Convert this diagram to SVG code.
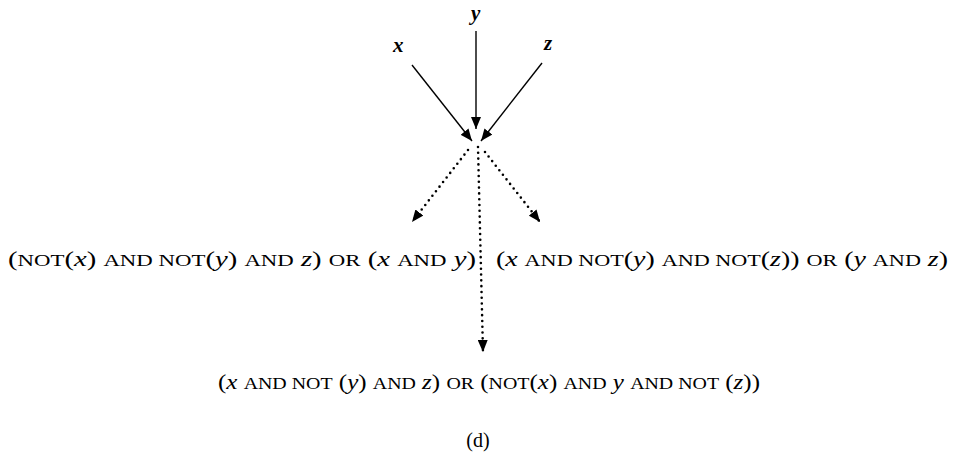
<svg xmlns="http://www.w3.org/2000/svg" width="954" height="476" viewBox="0 0 954 476">
<style>
text{font-family:"Liberation Serif","DejaVu Serif","Times New Roman",serif;fill:#000}
.t{font-size:22px}
.sc{font-size:17.5px}
.i{font-style:italic}
.lbl{font-size:21px;font-style:italic;font-weight:bold}
.solid{stroke:#000;stroke-width:1.4;fill:none}
.dot{stroke:#000;stroke-width:2.6;fill:none;stroke-linecap:round;stroke-dasharray:0 5.8}
</style>
<defs>
<marker id="ah" viewBox="0 0 12 10" refX="12" refY="5" markerWidth="12" markerHeight="10" markerUnits="userSpaceOnUse" orient="auto">
<path d="M0,0 L12,5 L0,10 Z" fill="#000"/>
</marker>
</defs>
<rect width="954" height="476" fill="#fff"/>
<g id="in-x"><text class="lbl" x="393" y="52" font-family="Liberation Serif, serif">x</text></g>
<g id="in-y"><text class="lbl" x="471" y="20" font-family="Liberation Serif, serif">y</text></g>
<g id="in-z"><text class="lbl" x="544" y="50" font-family="Liberation Serif, serif">z</text></g>
<g id="connectors">
<line class="solid" x1="412" y1="65" x2="472" y2="141" marker-end="url(#ah)"/>
<line class="solid" x1="476" y1="31" x2="476" y2="129" marker-end="url(#ah)"/>
<line class="solid" x1="542" y1="63" x2="481" y2="141" marker-end="url(#ah)"/>
<line class="dot" x1="468" y1="150" x2="412" y2="222" marker-end="url(#ah)"/>
<line class="dot" x1="485" y1="152" x2="540" y2="222" marker-end="url(#ah)"/>
<line class="dot" x1="478" y1="147" x2="483" y2="352" marker-end="url(#ah)"/>
</g>
<g id="out-left"><text class="t" x="8" y="266" textLength="468" lengthAdjust="spacingAndGlyphs" font-family="Liberation Serif, serif">(<tspan class="sc">NOT</tspan>(<tspan class="i">x</tspan>) <tspan class="sc">AND NOT</tspan>(<tspan class="i">y</tspan>) <tspan class="sc">AND</tspan> <tspan class="i">z</tspan>) <tspan class="sc">OR</tspan> (<tspan class="i">x</tspan> <tspan class="sc">AND</tspan> <tspan class="i">y</tspan>)</text></g>
<g id="out-right"><text class="t" x="496" y="266" textLength="452" lengthAdjust="spacingAndGlyphs" font-family="Liberation Serif, serif">(<tspan class="i">x</tspan> <tspan class="sc">AND NOT</tspan>(<tspan class="i">y</tspan>) <tspan class="sc">AND NOT</tspan>(<tspan class="i">z</tspan>)) <tspan class="sc">OR</tspan> (<tspan class="i">y</tspan> <tspan class="sc">AND</tspan> <tspan class="i">z</tspan>)</text></g>
<g id="out-bottom"><text class="t" x="218" y="389" textLength="542" lengthAdjust="spacingAndGlyphs" font-family="Liberation Serif, serif">(<tspan class="i">x</tspan> <tspan class="sc">AND NOT</tspan> (<tspan class="i">y</tspan>) <tspan class="sc">AND</tspan> <tspan class="i">z</tspan>) <tspan class="sc">OR</tspan> (<tspan class="sc">NOT</tspan>(<tspan class="i">x</tspan>) <tspan class="sc">AND</tspan> <tspan class="i">y</tspan> <tspan class="sc">AND NOT</tspan> (<tspan class="i">z</tspan>))</text></g>
<g id="caption"><text x="478" y="447" text-anchor="middle" font-size="20" font-family="Liberation Serif, serif">(d)</text></g>
</svg>
